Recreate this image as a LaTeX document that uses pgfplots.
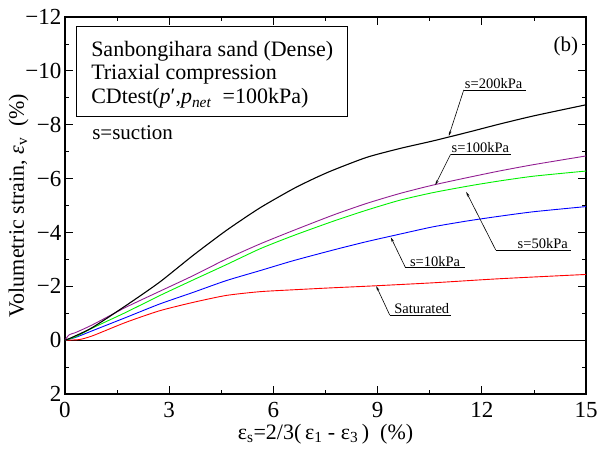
\documentclass[border=0pt]{standalone}
\usepackage{fontspec}
\setmainfont{Liberation Serif}
\usepackage{pgfplots}
\pgfplotsset{compat=1.18}
\usetikzlibrary{arrows.meta}
\definecolor{cpurple}{HTML}{921E92}
\definecolor{cgreen}{HTML}{00F000}
\begin{document}
\begin{tikzpicture}
\begin{axis}[
  scale only axis,
  width=521pt, height=377pt,
  xmin=0, xmax=15, ymin=-12, ymax=2,
  y dir=reverse,
  xtick={0,3,...,15}, minor x tick num=1,
  ytick={-12,-10,...,2}, minor y tick num=1,
  yticklabels={−12,−10,−8,−6,−4,−2,0,2},
  tick align=inside, ticks=both,
  xtick pos=both, ytick pos=both,
  major tick length=8pt, minor tick length=4pt,
  axis line style={line width=1.1pt},
  every tick/.style={black, line width=0.8pt},
  /pgf/number format/assume math mode=true,
  tick label style={font=\fontsize{23}{26}\selectfont},
  xticklabel style={yshift=-5pt},
  label style={font=\fontsize{22}{26}\selectfont},
  xlabel={ε\textsubscript{s}=2/3(\,ε\textsubscript{1} - ε\textsubscript{3}\,)\ \ (\%)},
  ylabel={Volumetric strain, \textit{ε}\textsubscript{v}\ \ (\%)},
  xlabel style={at={(axis description cs:0.5,0)}, anchor=north, yshift=-27pt},
  ylabel style={yshift=-10pt},
  clip=false,
  every axis plot/.append style={smooth, tension=0.4},
]
% zero line
\addplot[black, line width=0.8pt, sharp plot] coordinates {(0,0) (15,0)};
% saturated
\addplot[red, line width=0.9pt] coordinates {
(0,0) (0.4,-0.02) (0.79,-0.16) (1.75,-0.66) (2.72,-1.09) (3.68,-1.40) (4.64,-1.66)
(5.61,-1.80) (6.57,-1.87) (7.63,-1.94) (8.8,-2.01) (10.6,-2.13) (12.5,-2.28) (15,-2.44)};
% s=10kPa
\addplot[blue, line width=0.9pt] coordinates {
(0,0) (0.3,-0.1) (0.79,-0.35) (1.75,-0.84) (2.72,-1.34) (3.68,-1.77) (4.64,-2.21)
(5.61,-2.58) (6.57,-2.95) (7.73,-3.35) (8.69,-3.66) (9.65,-3.94) (10.6,-4.21)
(11.6,-4.43) (12.5,-4.60) (13.5,-4.77) (15,-4.96)};
% s=50kPa
\addplot[cgreen, line width=0.9pt] coordinates {
(0,0) (0.3,-0.12) (0.79,-0.45) (1.75,-1.03) (2.72,-1.65) (3.68,-2.23) (4.64,-2.80)
(5.61,-3.39) (6.57,-3.88) (7.73,-4.42) (8.69,-4.83) (9.65,-5.20) (10.6,-5.48)
(11.6,-5.72) (12.5,-5.91) (13.5,-6.09) (15,-6.28)};
% s=100kPa
\addplot[cpurple, line width=0.9pt] coordinates {
(0,0) (0.12,-0.2) (0.3,-0.28) (0.79,-0.57) (1.75,-1.22) (2.72,-1.81) (3.68,-2.39)
(4.64,-3.01) (5.61,-3.57) (6.57,-4.07) (7.73,-4.65) (8.69,-5.08) (9.65,-5.45)
(10.6,-5.76) (11.6,-6.04) (12.5,-6.28) (13.5,-6.52) (15,-6.84)};
% s=200kPa
\addplot[black, line width=1.1pt] coordinates {
(0,0) (0.2,-0.1) (0.79,-0.47) (1.75,-1.28) (2.72,-2.15) (3.68,-3.14) (4.64,-4.07)
(5.61,-4.91) (6.57,-5.62) (7.2,-6.02) (7.73,-6.32) (8.69,-6.79) (9.65,-7.12)
(10.6,-7.40) (11.6,-7.72) (12.5,-8.02) (13.5,-8.33) (15,-8.74)};

% info box
\draw[line width=0.6pt] (axis cs:0.32,-11.64) rectangle (axis cs:8.12,-8.33);
\tikzset{boxt/.style={anchor=base west, inner sep=0pt, font=\fontsize{22}{24}\selectfont}}
\node[boxt] at (axis cs:0.75,-10.52) {Sanbongihara sand (Dense)};
\node[boxt] at (axis cs:0.75,-9.67) {Triaxial compression};
\node[boxt] at (axis cs:0.75,-8.77) {CDtest(\textit{p}′,\textit{p}\textsubscript{\textit{net}}\ \ =100kPa)};
\node[anchor=west, inner sep=0pt, font=\fontsize{21}{24}\selectfont] at (axis cs:0.78,-7.7) {s=suction};
\node[font=\fontsize{21}{24}\selectfont] at (axis cs:14.42,-10.9) {(b)};

% annotations
\tikzset{lead/.style={line width=0.6pt, -{Stealth[length=5pt,width=2.5pt]}},
         ann/.style={anchor=south west, inner sep=1pt, font=\fontsize{14.5}{17}\selectfont}}
\draw[line width=0.6pt] (axis cs:11.48,-9.29) -- (axis cs:13.27,-9.29);
\draw[lead] (axis cs:11.48,-9.29) -- (axis cs:11.05,-7.58);
\node[ann] at (axis cs:11.48,-9.29) {s=200kPa};

\draw[line width=0.6pt] (axis cs:11.1,-6.90) -- (axis cs:12.83,-6.90);
\draw[lead] (axis cs:11.1,-6.90) -- (axis cs:10.66,-5.76);
\node[ann] at (axis cs:11.1,-6.90) {s=100kPa};

\draw[line width=0.6pt] (axis cs:12.4,-3.35) -- (axis cs:14.57,-3.35);
\draw[lead] (axis cs:12.4,-3.35) -- (axis cs:11.55,-5.51);
\node[ann] at (axis cs:13.0,-3.35) {s=50kPa};

\draw[line width=0.6pt] (axis cs:9.8,-2.70) -- (axis cs:11.53,-2.70);
\draw[lead] (axis cs:9.8,-2.70) -- (axis cs:9.38,-3.82);
\node[ann] at (axis cs:9.9,-2.70) {s=10kPa};

\draw[line width=0.6pt] (axis cs:9.35,-0.93) -- (axis cs:11.1,-0.93);
\draw[lead] (axis cs:9.35,-0.93) -- (axis cs:8.96,-2.01);
\node[ann] at (axis cs:9.45,-0.93) {Saturated};
\end{axis}
% fix the page to the reference frame
\path (current axis.south west) ++(-65pt,-59pt) rectangle ++(602pt,453pt);
\end{tikzpicture}
\end{document}
